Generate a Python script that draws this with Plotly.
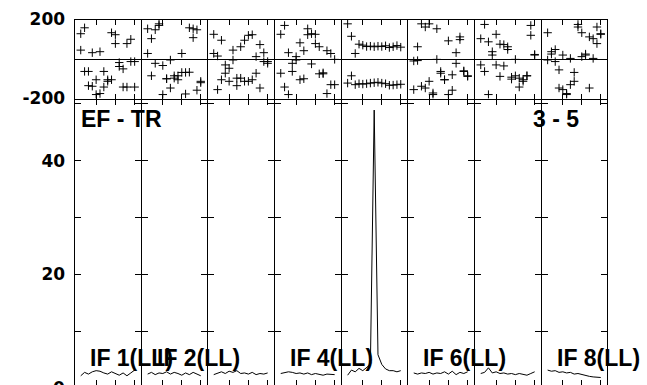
import plotly.graph_objects as go

# ---------------- data ----------------
channels = list(range(1, 16))

baseline_label = "EF - TR"
time_label = "3 - 5"
if_labels = ["IF 1(LL)", "IF 2(LL)", "IF 4(LL)", "IF 6(LL)", "IF 8(LL)"]
if_label_panels = [0, 1, 3, 5, 7]

phase_ticks = [-200, 200]
phase_ticktext = ["-200", "200"]
amp_ticks = [10, 20, 30, 40, 50]
amp_ticktext = ["", "20", "", "40", ""]
chan_ticks = [5, 10, 15]

# phase (degrees), two records per IF
if1_phase_a = [128, 158, -63, 32, -105, 37, -63, -105, 133, 123, -18, -50, 78, 100, -142]
if1_phase_b = [45, -63, -135, -138, -180, -175, -142, -113, -105, 78, -38, -142, -142, -13, -13]
if2_phase_a = [153, 103, 148, 170, -33, -100, -5, -85, -105, 28, -68, 158, 153, 148, -113]
if2_phase_b = [28, -85, -22, 178, -180, -100, -147, -97, -85, -68, -177, -67, 108, -158, -120]
if3_phase_a = [125, 15, 95, -30, -47, 45, -135, 62, 95, -113, 123, -72, 73, 32, -22]
if3_phase_b = [28, -155, -105, -72, -113, -5, -97, -97, -113, 120, -105, 12, -147, -13, -13]
if4_phase_a = [125, 170, 32, -22, -5, 82, 42, 123, 128, 125, 62, -75, -175, 28, -2]
if4_phase_b = [-72, -142, -180, -63, 12, -105, -100, 153, -25, 78, -75, -70, 42, -130, -130]
if5_phase_a = [178, 115, 28, 75, 70, 63, 65, 62, 65, 63, 67, 58, 62, 68, 60]
if5_phase_b = [-122, -85, -130, -125, -127, -125, -122, -120, -118, -122, -125, -133, -132, -130, -128]
if6_phase_a = [-155, 62, 178, 162, -113, -172, 153, -63, -105, 92, -80, -22, 98, -63, -88]
if6_phase_b = [-10, -8, -138, -147, 178, -180, -2, -72, -105, -180, -158, 32, 112, -60, -85]
if7_phase_a = [103, 175, 87, 37, 125, 75, 73, 62, -102, -2, -97, -113, -85, 120, 23]
if7_phase_b = [-30, -63, -180, 20, -30, -88, -35, 48, -92, -85, -142, -105, -85, 170, 20]
if8_phase_a = [133, 37, 48, -55, 20, -180, 3, -68, 162, 12, 25, 112, 103, 162, 128]
if8_phase_b = [-5, 25, -13, -147, -155, -175, -130, -113, 175, 133, 20, -147, 3, 78, 125]

# amplitude per IF
if1_amp = [2.2, 2.8, 2.5, 2.9, 3.1, 3.0, 2.7, 2.5, 2.9, 2.6, 2.3, 2.7, 2.2, 2.7, 3.2]
if2_amp = [2.5, 2.8, 2.4, 2.7, 2.6, 2.9, 2.5, 2.8, 2.6, 2.3, 2.7, 2.4, 2.8, 2.5, 2.2]
if3_amp = [2.4, 2.7, 2.9, 2.6, 3.0, 2.8, 3.1, 2.6, 2.7, 2.5, 2.8, 2.4, 2.6, 2.5, 2.7]
if4_amp = [2.6, 2.7, 2.9, 2.8, 2.6, 2.7, 2.5, 2.7, 2.4, 2.6, 2.5, 2.3, 2.5, 2.4, 2.4]
if5_amp = [2.3, 3.2, 2.9, 3.5, 3.1, 3.6, 4.2, 48.9, 5.9, 4.2, 3.4, 3.1, 3.1, 2.9, 3.1]
if6_amp = [2.7, 2.5, 2.7, 2.6, 2.8, 2.5, 2.7, 2.6, 2.9, 2.5, 3.0, 2.4, 2.8, 2.6, 2.9]
if7_amp = [2.6, 2.8, 3.6, 2.7, 2.9, 2.6, 2.7, 2.5, 2.6, 2.4, 2.6, 2.5, 2.3, 2.6, 2.9]
if8_amp = [3.2, 3.0, 3.1, 2.8, 2.9, 2.7, 2.8, 2.5, 2.6, 2.4, 2.3, 2.1, 2.0, 1.9, 1.9]

phase_a = [if1_phase_a, if2_phase_a, if3_phase_a, if4_phase_a,
           if5_phase_a, if6_phase_a, if7_phase_a, if8_phase_a]
phase_b = [if1_phase_b, if2_phase_b, if3_phase_b, if4_phase_b,
           if5_phase_b, if6_phase_b, if7_phase_b, if8_phase_b]
amps = [if1_amp, if2_amp, if3_amp, if4_amp, if5_amp, if6_amp, if7_amp, if8_amp]

# ---------------- layout geometry (pixels) ----------------
W, H = 647, 385
X_BOUNDS = [74, 141, 207, 274, 341, 407, 474, 541, 607]
PH_TOP, PH_BOT = 19, 99
AMP_ZERO, AMP_PX = 388.3, 5.69
CH_RANGE = [-0.62, 16.52]

def px_x(p):
    return p / W

def px_y(p):
    return 1 - p / H

tick_font = dict(family="DejaVu Sans", size=17, color="black", weight="bold")
lab_font = dict(family="Liberation Sans, Arial", size=23, color="black", weight="bold")

fig = go.Figure()
layout = dict(width=W, height=H,
              margin=dict(l=0, r=0, t=0, b=0, autoexpand=False),
              paper_bgcolor="white", plot_bgcolor="white", showlegend=False)

# axis lines sit half a pixel outside the domain; shrink domains so that
# neighbouring panels share one 1-px border line
amp_top_px = PH_BOT + 0.5
amp_range = [(AMP_ZERO - H) / AMP_PX, (AMP_ZERO - amp_top_px) / AMP_PX]

def xname(k):
    return "xaxis" if k == 1 else f"xaxis{k}"

def yname(k):
    return "yaxis" if k == 1 else f"yaxis{k}"

def ref(letter, k):
    return letter if k == 1 else f"{letter}{k}"

for i in range(8):
    kp = i + 1
    ka = i + 9
    dom = [px_x(X_BOUNDS[i] + 0.5), px_x(X_BOUNDS[i + 1] - 0.5)]
    first = (i == 0)

    common_x = dict(domain=dom, range=CH_RANGE, showgrid=False, zeroline=False,
                    showline=True, linecolor="black", linewidth=1, mirror="ticks",
                    ticks="inside", ticklen=5, tickwidth=1, tickcolor="black",
                    tickvals=chan_ticks, showticklabels=False, fixedrange=True,
                    automargin=False)
    layout[xname(kp)] = dict(common_x, anchor=ref("y", kp))
    layout[xname(ka)] = dict(common_x, anchor=ref("y", ka))

    layout[yname(kp)] = dict(domain=[px_y(PH_BOT - 0.5), px_y(PH_TOP + 0.5)],
                             range=[-200, 200],
                             anchor=ref("x", kp), showgrid=False,
                             zeroline=True, zerolinecolor="black", zerolinewidth=1,
                             showline=True, linecolor="black", linewidth=1, mirror=True,
                             ticks="", tickvals=phase_ticks, ticktext=phase_ticktext,
                             showticklabels=first, tickfont=tick_font,
                             ticklabelstandoff=5, fixedrange=True, automargin=False)
    layout[yname(ka)] = dict(domain=[0, px_y(amp_top_px)], range=amp_range,
                             anchor=ref("x", ka), showgrid=False, zeroline=False,
                             showline=True, linecolor="black", linewidth=1, mirror="ticks",
                             ticks="inside", ticklen=6, tickwidth=1, tickcolor="black",
                             tickvals=amp_ticks, ticktext=amp_ticktext,
                             showticklabels=first, tickfont=tick_font,
                             ticklabelstandoff=5, fixedrange=True, automargin=False)

    for series in (phase_a[i], phase_b[i]):
        fig.add_trace(go.Scatter(
            x=channels, y=series, mode="markers",
            marker=dict(symbol="cross-thin", size=6, color="black",
                        line=dict(color="black", width=1)),
            xaxis=ref("x", kp), yaxis=ref("y", kp), hoverinfo="skip"))
    fig.add_trace(go.Scatter(
        x=channels, y=amps[i], mode="lines",
        line=dict(color="black", width=1),
        xaxis=ref("x", ka), yaxis=ref("y", ka), hoverinfo="skip"))

annotations = [
    dict(text=baseline_label, x=px_x(80), y=px_y(119), xanchor="left", yanchor="middle"),
    dict(text=time_label, x=px_x(532), y=px_y(119), xanchor="left", yanchor="middle"),
    dict(text="0", x=px_x(66), y=px_y(AMP_ZERO), xanchor="right", yanchor="middle",
         font=tick_font),
]
for lab, p in zip(if_labels, if_label_panels):
    annotations.append(dict(text=lab, x=px_x(X_BOUNDS[p] + 15), y=px_y(358),
                            xanchor="left", yanchor="middle"))
for a in annotations:
    a.setdefault("font", lab_font)
    a.update(xref="paper", yref="paper", showarrow=False, borderpad=0)
layout["annotations"] = annotations

fig.update_layout(**layout)
fig.write_html("out.html", config={"staticPlot": True},
               post_script="document.body.style.margin='0';")
